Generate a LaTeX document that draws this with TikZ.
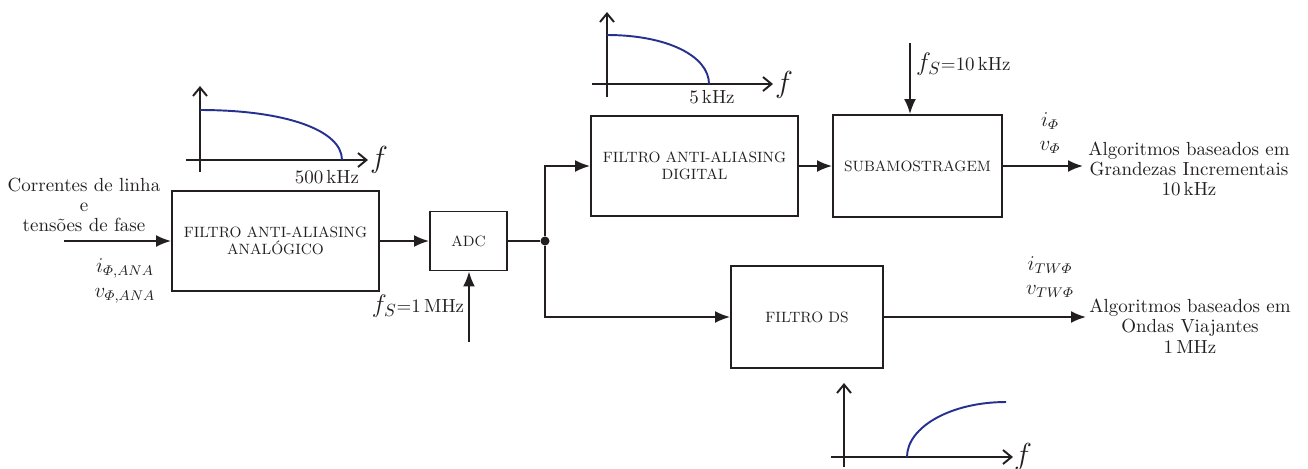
\documentclass[tikz,border=0pt]{standalone}
\usepackage{fontspec}
\usepackage{amsmath}
\usetikzlibrary{arrows.meta,positioning,calc}
\definecolor{sigInk}{HTML}{231F20}
\definecolor{sigCurve}{HTML}{26318F}
\tikzset{
  sigBlock/.style={
    draw=sigInk,
    line width=1.1pt,
    align=center,
    minimum height=2.0cm,
    inner sep=2pt,
    text=sigInk,
    font=\fontsize{8.5}{10}\selectfont
  },
  sigLine/.style={
    line width=1.1pt,
    draw=sigInk
  },
  sigArrow/.style={
    sigLine,
    -{Latex[length=3mm,width=2.4mm]}
  },
  sigAxis/.style={
    sigLine,
    -{Straight Barb[length=1.7mm,width=2.8mm,line width=1.1pt]}
  },
  sigResp/.style={
    line width=1.1pt,
    draw=sigCurve
  },
  sigLabel/.style={
    font=\fontsize{10.8}{11.6}\selectfont,
    text=sigInk,
    align=center,
    inner sep=1pt
  },
  sigMath/.style={
    font=\large,
    text=sigInk,
    align=center,
    inner sep=1pt
  }
}

\begin{document}
\begin{tikzpicture}[x=0.02cm,y=-0.02cm]
\useasboundingbox (0,0) rectangle (1308,468);

% Analog front end.
\node[sigLabel] (inNote) at (84,205)
  {Correntes de linha\\e\\tensões de fase};
\coordinate (inStart) at (64,241);
\node[sigBlock, minimum width=4.14cm] (aaf) at (275.5,241)
  {FILTRO ANTI-ALIASING\\ANALÓGICO};
\draw[sigArrow] (inStart) -- (aaf.west);
\node[sigMath] (inSig) at (125,281)
  {$i_{\varPhi,ANA}$\\$v_{\varPhi,ANA}$};

\node[sigBlock, minimum width=1.54cm, minimum height=1.18cm] (adc) at (468.5,241)
  {ADC};
\draw[sigArrow] (aaf.east) -- (adc.west);
\coordinate (fsAdc) at (469,342);
\draw[sigArrow] (fsAdc) -- (fsAdc |- adc.south);
\node[sigLabel] (fsAdcLbl) at (418,306) {{\Large$f_S$}=1\,MHz};

\node[circle, fill=sigInk, inner sep=0pt, minimum size=0.18cm] (jn) at (545,241) {};
\draw[sigLine] (adc.east) -- (jn);

% Incremental-quantity branch.
\node[sigBlock, minimum width=4.14cm] (dig) at (694.5,166)
  {FILTRO ANTI-ALIASING\\DIGITAL};
\draw[sigArrow] (jn) |- (dig.west);

\node[sigBlock, minimum width=3.38cm, minimum height=2.04cm] (sub) at (917.5,166)
  {SUBAMOSTRAGEM};
\draw[sigArrow] (dig.east) -- (sub.west);
\coordinate (fsSub) at (910,43);
\draw[sigArrow] (fsSub) -- (fsSub |- sub.north);
\node[sigLabel, anchor=west] (fsSubLbl) at (914,64) {{\Large$f_S$}=10\,kHz};

\coordinate (outInc) at (1083,166);
\draw[sigArrow] (sub.east) -- (outInc);
\node[sigMath] (incSig) at (1050,133) {$i_{\varPhi}$\\$v_{\varPhi}$};
\node[sigLabel] (incNote) at (1189,169)
  {Algoritmos baseados em\\Grandezas Incrementais\\10\,kHz};

% Travelling-wave branch.
\node[sigBlock, minimum width=3.04cm, minimum height=2.04cm] (ds) at (807,317)
  {FILTRO DS};
\draw[sigArrow] (jn) |- (ds.west);
\coordinate (outTw) at (1086,317);
\draw[sigArrow] (ds.east) -- (outTw);
\node[sigMath] (twSig) at (1050,277) {$i_{TW\varPhi}$\\$v_{TW\varPhi}$};
\node[sigLabel] (twNote) at (1190,326)
  {Algoritmos baseados em\\Ondas Viajantes\\1\,MHz};

% Frequency responses.
\begin{scope}[shift={(200,160)}]
  \draw[sigAxis] (0,12) -- (0,-74);
  \draw[sigAxis] (-14,0) -- (168,0);
  \draw[sigResp] (0,-50) .. controls (85,-50) and (142,-30) .. (142,0);
  \node[sigMath, font=\LARGE] (f1) at (179,0) {$f$};
  \node[sigLabel] (f1cut) at (127,17) {500\,kHz};
\end{scope}

\begin{scope}[shift={(607,84)}]
  \draw[sigAxis] (0,13) -- (0,-72);
  \draw[sigAxis] (-15,0) -- (166,0);
  \draw[sigResp] (0,-49) .. controls (60,-49) and (102,-28) .. (102,0);
  \node[sigMath, font=\LARGE] (f2) at (177,1) {$f$};
  \node[sigLabel] (f2cut) at (105,13) {5\,kHz};
\end{scope}

\begin{scope}[shift={(844,457)}]
  \draw[sigAxis] (0,10) -- (0,-74);
  \draw[sigAxis] (-13,0) -- (169,0);
  \draw[sigResp] (63,0) .. controls (63,-30) and (107,-55) .. (162,-55);
  \node[sigMath, font=\LARGE] (f3) at (179,0) {$f$};
\end{scope}

\end{tikzpicture}
\end{document}
